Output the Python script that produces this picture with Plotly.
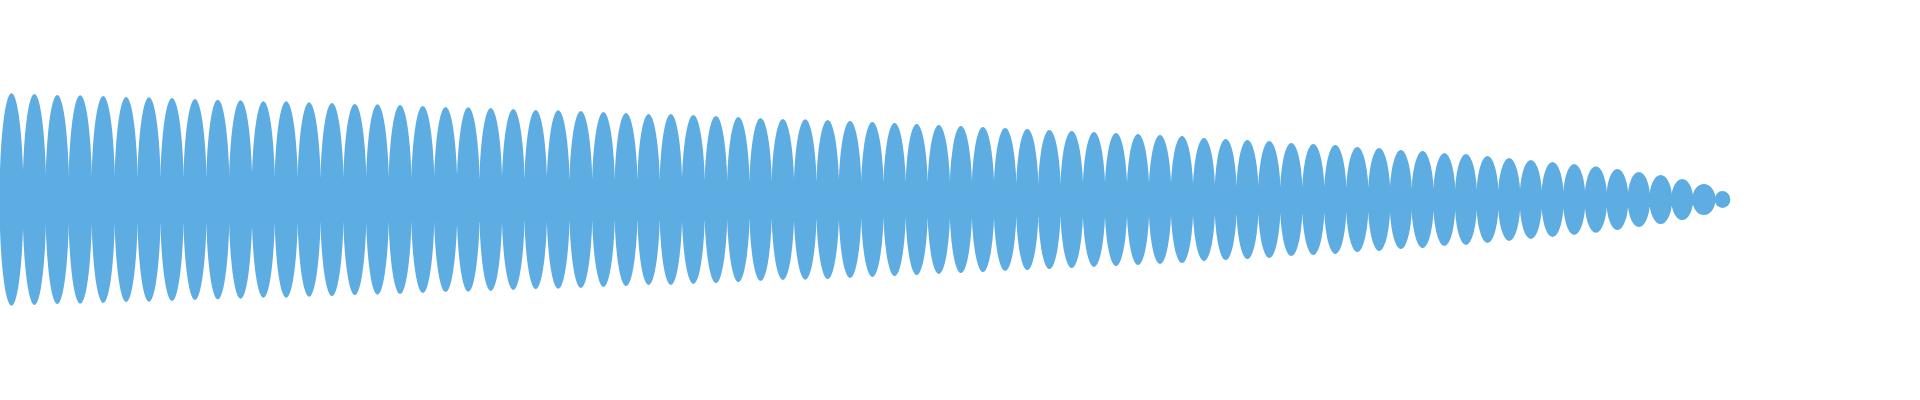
import plotly.graph_objects as go

# Neck positions (x) between the wave lobes
necks = [0, 23.0, 45.8, 68.7, 91.7, 114.7, 137.5, 160.5, 183.5, 206.4, 229.2,
         252.0, 274.7, 297.7, 320.5, 343.4, 366.2, 388.7, 411.4, 434.2, 457.0,
         479.5, 502.0, 524.5, 546.9, 569.5, 592.2, 614.7, 637.4, 659.7, 682.0,
         704.7, 727.2, 749.5, 771.7, 794.0, 816.5, 838.9, 861.2, 883.5, 905.7,
         927.7, 949.9, 971.9, 994.0, 1016.3, 1038.3, 1060.5, 1082.9, 1105.0, 1127.0,
         1149.0, 1171.0, 1193.0, 1214.9, 1236.5, 1258.3, 1280.3, 1302.3, 1324.3, 1346.3,
         1368.3, 1390.0, 1411.7, 1433.5, 1455.2, 1476.7, 1498.3, 1520.0, 1541.7, 1563.4,
         1585.0, 1606.7, 1628.0, 1649.7, 1671.7, 1692.7, 1715.0, 1730.0]

# Peak amplitude of each lobe
peaks = [106.2, 105.5, 104.5, 104.2, 103.5, 102.5, 102.2, 101.5, 100.5, 99.8, 99.2,
         98.2, 98.2, 97.2, 96.5, 95.5, 95.2, 94.5, 93.5, 92.5, 92.2,
         91.5, 90.5, 89.5, 89.2, 88.5, 87.5, 86.5, 85.5, 85.5, 84.5, 83.5,
         82.5, 81.5, 80.5, 80.2, 79.5, 78.5, 77.5, 76.5, 75.5, 74.5,
         73.5, 72.5, 71.5, 70.5, 69.5, 68.5, 67.5, 66.5, 65.5, 64.5, 63.5,
         61.5, 60.5, 59.5, 58.5, 56.5, 55.5, 54.5, 52.5, 51.5, 49.5,
         48.5, 46.5, 45.5, 43.5, 41.5, 39.5, 37.5, 35.5, 33.2, 30.5, 27.5,
         24.5, 20.5, 15.5, 8.5]

# Level of the solid band that fills the necks
band = [25, 25, 25, 25, 25, 24, 24, 24, 24, 24, 24, 24, 24, 23, 23, 23, 23, 23, 23, 22, 22,
        22, 22, 22, 22, 22, 21, 21, 21, 21, 21, 21, 20, 20, 20, 20, 20, 19, 19, 19, 19, 18,
        18, 18, 18, 18, 17, 17, 17, 17, 16, 16, 16, 15, 15, 15, 15, 14, 14, 14, 13, 13, 12,
        12, 12, 11, 11, 10, 10, 9, 9, 8, 8, 7, 6, 5, 4, 2]

color = '#5DADE2'
overlap = 0.04  # lobes are a touch wider than neck-to-neck

centers = [(a + b) / 2 for a, b in zip(necks[:-1], necks[1:])]
widths = [b - a for a, b in zip(necks[:-1], necks[1:])]

fig = go.Figure(data=[go.Bar(
    x=centers,
    y=[2 * v for v in band],
    base=[-v for v in band],
    width=widths,
    marker=dict(color=color, line=dict(width=0)),
    hoverinfo='skip',
)])

# each lobe is an ellipse spanning neck to neck
for c, w, p in zip(centers, widths, peaks):
    half = w * (1 + overlap) / 2
    fig.add_shape(type='circle', xref='x', yref='y',
                  x0=c - half, x1=c + half, y0=-p, y1=p,
                  fillcolor=color, line=dict(width=0), layer='above')

fig.update_layout(
    width=1920, height=400,
    margin=dict(l=0, r=0, t=0, b=0),
    paper_bgcolor='white', plot_bgcolor='white',
    showlegend=False, bargap=0,
    xaxis=dict(range=[0, 1920], visible=False),
    yaxis=dict(range=[-200.5, 199.5], visible=False),
)

# drop the default page margin so the 1920x400 figure fills the window exactly
fig.write_html("out.html", config={'displayModeBar': False},
               post_script="document.body.style.margin='0';")
